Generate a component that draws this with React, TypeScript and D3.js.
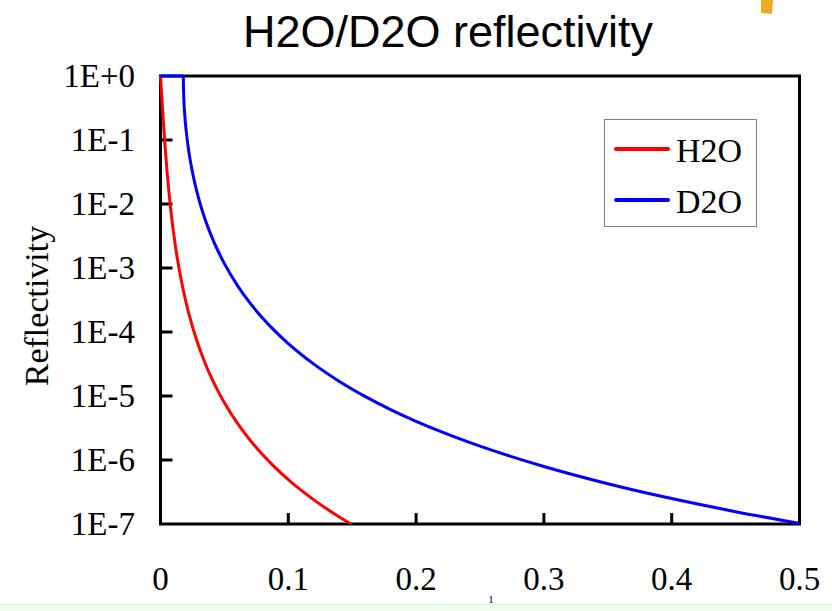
import React from "react";
import * as d3 from "d3";

// Momentum transfer q and reflectivity for each liquid
const h2oQ = [0, 0.001, 0.002, 0.003, 0.004, 0.005, 0.0075, 0.01, 0.0125, 0.015, 0.02, 0.025, 0.03, 0.035, 0.04, 0.045, 0.05, 0.06, 0.07, 0.08, 0.09, 0.1, 0.11, 0.12, 0.13, 0.14, 0.15];
const h2oR = [1, 0.4726, 0.2289, 0.1158, 0.06174, 0.03473, 0.01022, 0.003833, 0.001712, 8.686e-4, 2.89e-4, 1.211e-4, 5.923e-5, 3.224e-5, 1.9e-5, 1.191e-5, 7.834e-6, 3.791e-6, 2.051e-6, 1.204e-6, 7.522e-7, 4.938e-7, 3.375e-7, 2.384e-7, 1.731e-7, 1.287e-7, 9.77e-8];

const d2oQ = [0, 0.005, 0.01, 0.015, 0.0178, 0.018, 0.019, 0.02, 0.022, 0.025, 0.03, 0.035, 0.04, 0.045, 0.05, 0.06, 0.07, 0.08, 0.09, 0.1, 0.12, 0.14, 0.16, 0.18, 0.2, 0.22, 0.25, 0.3, 0.35, 0.4, 0.45, 0.5];
const d2oR = [1, 1, 1, 1, 1, 0.6295, 0.2445, 0.1453, 0.06955, 0.03141, 0.01194, 0.005695, 0.003098, 0.001843, 0.001169, 5.403e-4, 2.844e-4, 1.642e-4, 1.013e-4, 6.594e-5, 3.149e-5, 1.69e-5, 9.87e-6, 6.145e-6, 4.024e-6, 2.745e-6, 1.644e-6, 7.91e-7, 4.26e-7, 2.495e-7, 1.558e-7, 1.022e-7];

const yTickValues = [1, 1e-1, 1e-2, 1e-3, 1e-4, 1e-5, 1e-6, 1e-7];
const yTickLabels = ["1E+0", "1E-1", "1E-2", "1E-3", "1E-4", "1E-5", "1E-6", "1E-7"];
const xTickValues = [0, 0.1, 0.2, 0.3, 0.4, 0.5];
const xTickLabels = ["0", "0.1", "0.2", "0.3", "0.4", "0.5"];

const seriesNames = ["H2O", "D2O"];
const seriesColors = ["#ff0000", "#0000ff"];

const W = 832;
const H = 611;
const left = 160.5;
const right = 799.5;
const top = 76;
const bottom = 524;
const serif = "'Liberation Serif', 'Times New Roman', serif";
const sans = "'Liberation Sans', Arial, sans-serif";

export default function App() {
  const x = d3.scaleLinear().domain([0, 0.5]).range([left, right]);
  const y = d3.scaleLog().domain([1e-7, 1]).range([bottom, top]);

  const line = d3
    .line<[number, number]>()
    .x((d) => x(d[0]))
    .y((d) => y(d[1]))
    .curve(d3.curveMonotoneX);

  const series = [
    { name: seriesNames[0], color: seriesColors[0], pts: h2oQ.map((q, i) => [q, h2oR[i]] as [number, number]) },
    { name: seriesNames[1], color: seriesColors[1], pts: d2oQ.map((q, i) => [q, d2oR[i]] as [number, number]) },
  ];

  return (
    <svg
      width={W}
      height={H}
      style={{ position: "absolute", left: 0, top: 0, background: "#fff" }}
    >
      <defs>
        <clipPath id="plotClip">
          <rect x={left - 2} y={top - 3} width={right - left + 4} height={bottom - top + 3} />
        </clipPath>
      </defs>

      {/* decorative mark at the top edge */}
      <polygon points="761,0 773,0 772,14 761,13" fill="#eeaa22" />

      <text x={448} y={47} fontFamily={sans} fontSize={45} textAnchor="middle" fill="#000">
        H2O/D2O reflectivity
      </text>

      {/* frame */}
      <rect x={left} y={top} width={right - left} height={bottom - top} fill="none" stroke="#000" strokeWidth={3} />

      {/* inner ticks */}
      {yTickValues.slice(1, -1).map((v) => (
        <line key={"yt" + v} x1={left} x2={left + 12} y1={y(v)} y2={y(v)} stroke="#000" strokeWidth={3} />
      ))}
      {xTickValues.slice(1, -1).map((v) => (
        <line key={"xt" + v} x1={x(v)} x2={x(v)} y1={bottom} y2={bottom - 11} stroke="#000" strokeWidth={3} />
      ))}

      {/* tick labels */}
      {yTickValues.map((v, i) => (
        <text key={"yl" + v} x={135} y={y(v) + 11} fontFamily={serif} fontSize={33} textAnchor="end" fill="#000">
          {yTickLabels[i]}
        </text>
      ))}
      {xTickValues.map((v, i) => (
        <text key={"xl" + v} x={x(v)} y={590} fontFamily={serif} fontSize={33} textAnchor="middle" fill="#000">
          {xTickLabels[i]}
        </text>
      ))}

      <text
        transform="translate(48,306) rotate(-90)"
        fontFamily={serif}
        fontSize={34}
        textAnchor="middle"
        fill="#000"
      >
        Reflectivity
      </text>

      {/* curves */}
      <g clipPath="url(#plotClip)">
        {series.map((s) => (
          <path key={s.name} d={line(s.pts) || ""} fill="none" stroke={s.color} strokeWidth={3} strokeLinejoin="round" />
        ))}
      </g>

      {/* legend */}
      <rect x={604.5} y={119.5} width={152} height={107} fill="#fff" stroke="#7f7f7f" strokeWidth={1} />
      {series.map((s, i) => (
        <g key={"lg" + s.name}>
          <line x1={616} x2={668} y1={149 + i * 51} y2={149 + i * 51} stroke={s.color} strokeWidth={4} strokeLinecap="round" />
          <text x={676} y={162 + i * 51} fontFamily={serif} fontSize={34} fill="#000">
            {s.name}
          </text>
        </g>
      ))}

      {/* lower strip with the unit exponent just above it */}
      <rect x={0} y={604} width={W} height={H - 604} fill="#f0fdf0" />
      <line x1={0} x2={W} y1={604.5} y2={604.5} stroke="#d6f5d6" strokeWidth={1} />
      <text x={491} y={603} fontFamily={serif} fontSize={11} textAnchor="middle" fill="#000">
        1
      </text>
    </svg>
  );
}
